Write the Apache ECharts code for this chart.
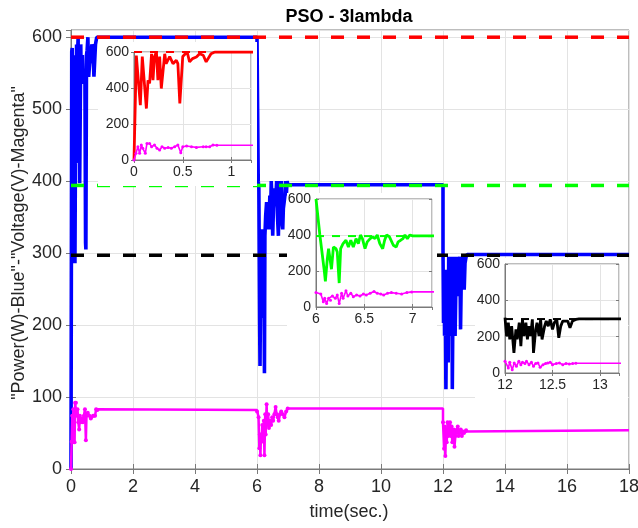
<!DOCTYPE html>
<html>
<head>
<meta charset="utf-8">
<script src="https://cdn.jsdelivr.net/npm/echarts@6/dist/echarts.min.js"></script>
<style>
  html, body { margin: 0; padding: 0; background: #ffffff; }
  #chart { width: 638px; height: 528px; }
</style>
</head>
<body>
<div id="chart"></div>
<script>
// PSO tracking of three irradiance levels: [time (s), power (W)] per stage
const stage1Power = [[0,0],[0.024,580],[0.04,585],[0.065,305],[0.085,575],[0.1,570],[0.127,286],[0.144,443],[0.16,425],[0.18,590],[0.195,443],[0.21,575],[0.23,600],[0.245,443],[0.263,575],[0.28,397],[0.3,397],[0.315,590],[0.33,535],[0.366,575],[0.4,535],[0.434,554],[0.45,535],[0.47,314],[0.48,305],[0.5,575],[0.52,582],[0.545,600],[0.57,545],[0.6,563],[0.64,572],[0.673,590],[0.71,582],[0.74,545],[0.76,545],[0.79,590],[0.83,600],[6.0,600]];
const stage2Power = [[6.0,600],[6.007,600],[6.04,400],[6.06,390],[6.086,200],[6.097,143],[6.117,267],[6.13,324],[6.145,267],[6.16,210],[6.18,333],[6.207,324],[6.22,305],[6.24,133],[6.255,324],[6.28,352],[6.31,371],[6.335,333],[6.36,371],[6.386,333],[6.414,380],[6.438,352],[6.46,400],[6.48,380],[6.507,324],[6.53,362],[6.56,380],[6.586,390],[6.61,380],[6.634,400],[6.66,352],[6.69,324],[6.71,371],[6.73,400],[6.76,390],[6.78,400],[6.8,343],[6.83,333],[6.85,362],[6.876,371],[6.9,380],[6.92,400],[6.945,380],[6.97,400],[7.0,395],[12.0,395]];
const stage3Power = [[12.0,305],[12.017,203],[12.035,277],[12.05,185],[12.07,258],[12.094,111],[12.115,240],[12.128,185],[12.15,277],[12.167,148],[12.184,295],[12.2,203],[12.22,277],[12.236,185],[12.253,258],[12.27,203],[12.288,295],[12.3,111],[12.323,240],[12.337,277],[12.358,203],[12.375,295],[12.39,185],[12.417,258],[12.434,286],[12.455,258],[12.476,295],[12.5,240],[12.52,277],[12.545,295],[12.566,194],[12.587,258],[12.608,286],[12.628,295],[12.66,286],[12.684,249],[12.71,286],[12.746,295],[12.78,298],[18.0,298]];

// [time (s), voltage (V)] per stage
const stage1Voltage = [[0,0],[0.02,38],[0.04,74],[0.058,37],[0.075,83],[0.09,65],[0.116,37],[0.133,92],[0.16,92],[0.18,74],[0.21,83],[0.236,65],[0.263,55],[0.287,74],[0.315,65],[0.35,70],[0.383,65],[0.417,74],[0.45,83],[0.48,40],[0.5,74],[0.54,78],[0.59,74],[0.64,70],[0.71,74],[0.74,74],[0.776,74],[0.81,83],[0.85,82],[6.0,82]];
const stage2Voltage = [[6.0,80],[6.05,72],[6.076,29],[6.09,48],[6.11,19],[6.13,48],[6.15,38],[6.17,61],[6.2,48],[6.22,67],[6.24,19],[6.265,76],[6.28,48],[6.31,90],[6.33,61],[6.36,76],[6.386,57],[6.42,67],[6.455,61],[6.49,72],[6.52,67],[6.56,76],[6.6,86],[6.634,76],[6.67,72],[6.7,67],[6.74,76],[6.78,80],[6.83,76],[6.886,72],[6.94,80],[6.99,84],[12.0,84]];
const stage3Voltage = [[12.0,65],[12.035,28],[12.05,59],[12.076,18],[12.097,55],[12.12,37],[12.146,65],[12.167,46],[12.184,59],[12.21,52],[12.226,65],[12.253,46],[12.278,59],[12.3,37],[12.323,52],[12.347,55],[12.37,31],[12.4,46],[12.427,52],[12.45,55],[12.476,59],[12.5,46],[12.54,52],[12.573,55],[12.608,46],[12.642,52],[12.677,50],[12.712,52],[12.746,54],[18.0,54]];

// Maximum power reference of each stage and its colour
const referencePower = [600, 394, 297];
const stageColors = ['#ff0000', '#00ff00', '#000000'];
// Time window of each zoomed view
const zoomWindows = [[0, 1.2], [6, 7.2], [12, 13.2]];

const FONT = '"Liberation Sans", Arial, Helvetica, sans-serif';
const TEXT = '#262626';
const AXIS = '#7a7a7a';
const GRID = '#e3e3e3';

// The last sample of a stage is only the end of the steady plateau: no marker there
function plateauEnd(points) {
  return points.map((p, k) => k === points.length - 1 ? { value: p, symbol: 'none' } : p);
}

const powerAll = stage1Power.concat(stage2Power.slice(1), stage3Power);
const voltageAll = plateauEnd(stage1Voltage).concat(plateauEnd(stage2Voltage), plateauEnd(stage3Voltage));
const stagePower = [stage1Power, stage2Power, stage3Power];
const stageVoltage = [stage1Voltage, stage2Voltage, stage3Voltage];

// Plot rectangles: main view + three zoomed views
const grids = [
  { left: 71, top: 30, width: 558, height: 439, z: 0 },
  { left: 134, top: 52, width: 117, height: 108, z: 20 },
  { left: 316, top: 199, width: 116, height: 108, z: 20 },
  { left: 505, top: 264, width: 114, height: 109, z: 20 }
];

const xAxes = [], yAxes = [];
function addAxes(gi, xr, xInt, yr, yInt, fontSize, margin, tickLen, z) {
  const lbl = { color: TEXT, fontSize: fontSize, fontFamily: FONT, margin: margin };
  const tick = { show: true, inside: true, length: tickLen, lineStyle: { color: AXIS } };
  xAxes.push({
    type: 'value', gridIndex: gi, position: 'bottom', min: xr[0], max: xr[1], interval: xInt, z: z,
    axisLine: { show: true, onZero: false, lineStyle: { color: AXIS, width: 1 } },
    axisTick: tick, splitLine: { show: true, lineStyle: { color: GRID, width: 1 } },
    axisLabel: Object.assign({ showMaxLabel: xr[1] % xInt === 0 }, lbl)
  });
  xAxes.push({
    type: 'value', gridIndex: gi, position: 'top', min: xr[0], max: xr[1], interval: xInt, z: z,
    axisLine: { show: false }, axisTick: tick, splitLine: { show: false }, axisLabel: { show: false }
  });
  yAxes.push({
    type: 'value', gridIndex: gi, position: 'left', min: yr[0], max: yr[1], interval: yInt, z: z,
    axisLine: { show: true, onZero: false, lineStyle: { color: AXIS, width: 1 } },
    axisTick: tick, splitLine: { show: true, lineStyle: { color: GRID, width: 1 } },
    axisLabel: Object.assign({ showMaxLabel: yr[1] % yInt === 0 }, lbl)
  });
  yAxes.push({
    type: 'value', gridIndex: gi, position: 'right', min: yr[0], max: yr[1], interval: yInt, z: z,
    axisLine: { show: false }, axisTick: tick, splitLine: { show: false }, axisLabel: { show: false }
  });
}

addAxes(0, [0, 18], 2, [0, 610], 100, 18, 9, 5, 0);
zoomWindows.forEach((w, i) => addAxes(i + 1, w, 0.5, [0, 600], 200, 14, 5, 3, 20));

const series = [];
// Main view: power trace, stage references, voltage trace
series.push({
  type: 'line', xAxisIndex: 0, yAxisIndex: 0, data: powerAll, showSymbol: false, z: 2,
  lineStyle: { color: '#0000ff', width: 3.6 }, itemStyle: { color: '#0000ff' }
});
referencePower.forEach((lv, i) => series.push({
  type: 'line', xAxisIndex: 0, yAxisIndex: 0, data: [[0, lv], [18, lv]], showSymbol: false, z: 3,
  lineStyle: { color: stageColors[i], width: 3.5, type: [13, 13] }
}));
series.push({
  type: 'line', xAxisIndex: 0, yAxisIndex: 0, data: voltageAll, z: 4,
  symbol: 'circle', symbolSize: 4, showSymbol: true,
  lineStyle: { color: '#ff00ff', width: 2.5 }, itemStyle: { color: '#ff00ff' }
});

// Zoomed views of each transient
zoomWindows.forEach((w, i) => {
  const ax = 2 * (i + 1);
  series.push({
    type: 'line', xAxisIndex: ax, yAxisIndex: ax, data: [[w[0], referencePower[i]], [w[1], referencePower[i]]],
    showSymbol: false, z: 21, lineStyle: { color: stageColors[i], width: 2, type: [8, 8] }
  });
  series.push({
    type: 'line', xAxisIndex: ax, yAxisIndex: ax, data: stagePower[i], showSymbol: false, z: 22,
    lineStyle: { color: stageColors[i], width: 2.8 }, itemStyle: { color: stageColors[i] }
  });
  series.push({
    type: 'line', xAxisIndex: ax, yAxisIndex: ax, data: stageVoltage[i], z: 23,
    symbol: 'circle', symbolSize: 3, showSymbol: true,
    lineStyle: { color: '#ff00ff', width: 1.6 }, itemStyle: { color: '#ff00ff' }
  });
});

// White panels behind the zoomed views
const panels = [[98, 42, 159, 144], [287, 193, 150, 137], [475, 258, 153, 140]];
const graphic = panels.map(p => ({
  type: 'rect', z: 10, shape: { x: p[0], y: p[1], width: p[2], height: p[3] },
  style: { fill: '#ffffff' }, silent: true
}));
graphic.push({
  type: 'text', x: 349, y: 17, z: 30,
  style: { text: 'PSO - 3lambda', font: 'bold 18px ' + FONT, fill: '#000000', align: 'center', verticalAlign: 'middle' }
});
graphic.push({
  type: 'text', x: 349, y: 512, z: 30,
  style: { text: 'time(sec.)', font: '18px ' + FONT, fill: TEXT, align: 'center', verticalAlign: 'middle' }
});
graphic.push({
  type: 'text', x: 19, y: 243, rotation: Math.PI / 2, z: 30,
  style: { text: '"Power(W)-Blue"-"Voltage(V)-Magenta"', font: '18px ' + FONT, fill: TEXT, align: 'center', verticalAlign: 'middle' }
});

const chart = echarts.init(document.getElementById('chart'), null, { renderer: 'canvas' });
chart.setOption({
  animation: false,
  backgroundColor: '#ffffff',
  grid: grids.map(g => Object.assign({
    show: true, borderColor: AXIS, borderWidth: 1, backgroundColor: 'transparent',
    containLabel: false, outerBoundsMode: 'none'
  }, g)),
  xAxis: xAxes,
  yAxis: yAxes,
  series: series,
  graphic: graphic
});
</script>
</body>
</html>
